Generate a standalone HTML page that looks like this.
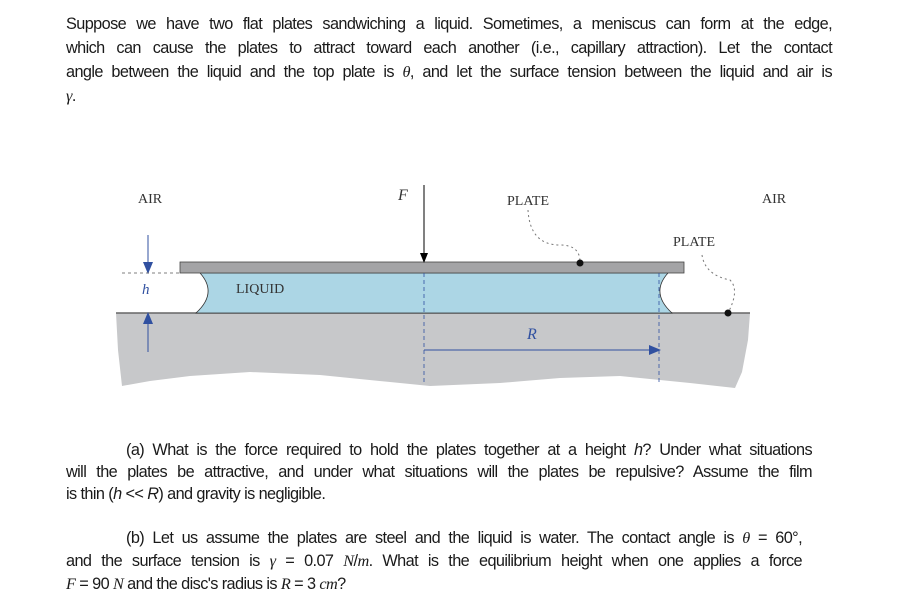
<!DOCTYPE html>
<html><head><meta charset="utf-8"><style>
html,body{margin:0;padding:0;background:#fff;}
body{width:900px;height:613px;position:relative;overflow:hidden;font-family:"Liberation Sans",sans-serif;color:#1a1a1a;}
.l{position:absolute;font-size:16.3px;letter-spacing:-0.6px;white-space:nowrap;text-align:justify;text-align-last:justify;height:22px;line-height:22px;}
.m{font-family:"Liberation Serif",serif;font-style:italic;}
</style></head><body>
<div class="l" style="left:66px;top:13px;width:766px">Suppose we have two flat plates sandwiching a liquid. Sometimes, a meniscus can form at the edge,</div>
<div class="l" style="left:66px;top:37px;width:766px">which can cause the plates to attract toward each another (i.e., capillary attraction). Let the contact</div>
<div class="l" style="left:66px;top:61px;width:766px">angle between the liquid and the top plate is <span class="m">θ</span>, and let the surface tension between the liquid and air is</div>
<div class="l" style="left:66px;top:85px;text-align-last:left"><span class="m">γ</span>.</div>

<svg style="position:absolute;left:0;top:0" width="900" height="613">
<defs>
<marker id="ab" markerWidth="10" markerHeight="10" refX="9" refY="5" orient="auto" markerUnits="userSpaceOnUse"><path d="M0,1 L10,5 L0,9Z" fill="#000"/></marker>
<marker id="bb" markerWidth="12" markerHeight="10" refX="11" refY="5" orient="auto" markerUnits="userSpaceOnUse"><path d="M0,0 L12,5 L0,10Z" fill="#3050a0"/></marker>
</defs>
<path d="M116,313 L750,313 L748,340 L742,372 L735,388 L690,383 L620,376 L560,378 L500,383 L430,386 L390,382 L320,375 L250,372 L190,376 L150,381 L122,386 L118,350Z" fill="#c7c8ca"/>
<line x1="116" y1="313" x2="750" y2="313" stroke="#666" stroke-width="1.5"/>
<path d="M200,273 Q218,293 196,313 L672,313 Q650,293 668,273Z" fill="#acd6e5" stroke="#333" stroke-width="0.8"/>
<rect x="180" y="262" width="504" height="11" fill="#a4a4a6" stroke="#444" stroke-width="0.8"/>
<line x1="424" y1="185" x2="424" y2="262" stroke="#000" marker-end="url(#ab)"/>
<line x1="424" y1="273" x2="424" y2="385" stroke="#3050a0" stroke-dasharray="4,3" stroke-width="0.8"/>
<line x1="659" y1="273" x2="659" y2="385" stroke="#3050a0" stroke-dasharray="4,3" stroke-width="0.8"/>
<line x1="424" y1="350" x2="660" y2="350" stroke="#3050a0" marker-end="url(#bb)"/>
<line x1="148" y1="235" x2="148" y2="273" stroke="#3050a0" marker-end="url(#bb)"/>
<line x1="148" y1="352" x2="148" y2="313" stroke="#3050a0" marker-end="url(#bb)"/>
<line x1="122" y1="273" x2="180" y2="273" stroke="#555" stroke-dasharray="3,3" stroke-width="0.8"/>
<path d="M528,210 Q530,245 560,245 Q580,245 580,262" fill="none" stroke="#777" stroke-dasharray="2,3"/>
<path d="M702,255 Q705,275 730,280 Q740,290 728,313" fill="none" stroke="#777" stroke-dasharray="2,3"/>
<circle cx="580" cy="263" r="3.5" fill="#111"/>
<circle cx="728" cy="313" r="3.5" fill="#111"/>
<g font-family="Liberation Serif,serif" font-size="14" fill="#333">
<text x="138" y="203">AIR</text>
<text x="762" y="203">AIR</text>
<text x="507" y="205">PLATE</text>
<text x="673" y="246">PLATE</text>
<text x="236" y="293">LIQUID</text>
<text x="398" y="200" font-style="italic" font-size="16">F</text>
<text x="142" y="294" font-style="italic" fill="#3050a0" font-size="15">h</text>
<text x="527" y="339" font-style="italic" fill="#3050a0" font-size="16">R</text>
</g>
</svg>

<div class="l" style="left:66px;top:439px;width:746px;padding-left:60px;box-sizing:border-box">(a) What is the force required to hold the plates together at a height <i>h</i>? Under what situations</div>
<div class="l" style="left:66px;top:461px;width:746px">will the plates be attractive, and under what situations will the plates be repulsive? Assume the film</div>
<div class="l" style="left:66px;top:483px;text-align-last:left">is thin (<i>h</i> &lt;&lt; <i>R</i>) and gravity is negligible.</div>
<div class="l" style="left:66px;top:527px;width:736px;padding-left:60px;box-sizing:border-box">(b) Let us assume the plates are steel and the liquid is water. The contact angle is <span class="m">θ</span> = 60°,</div>
<div class="l" style="left:66px;top:550px;width:736px">and the surface tension is <span class="m">γ</span> = 0.07 <span class="m">N</span>/<span class="m">m</span>. What is the equilibrium height when one applies a force</div>
<div class="l" style="left:66px;top:573px;text-align-last:left"><span class="m">F</span> = 90 <span class="m">N</span> and the disc's radius is <span class="m">R</span> = 3 <span class="m">cm</span>?</div>
</body></html>
